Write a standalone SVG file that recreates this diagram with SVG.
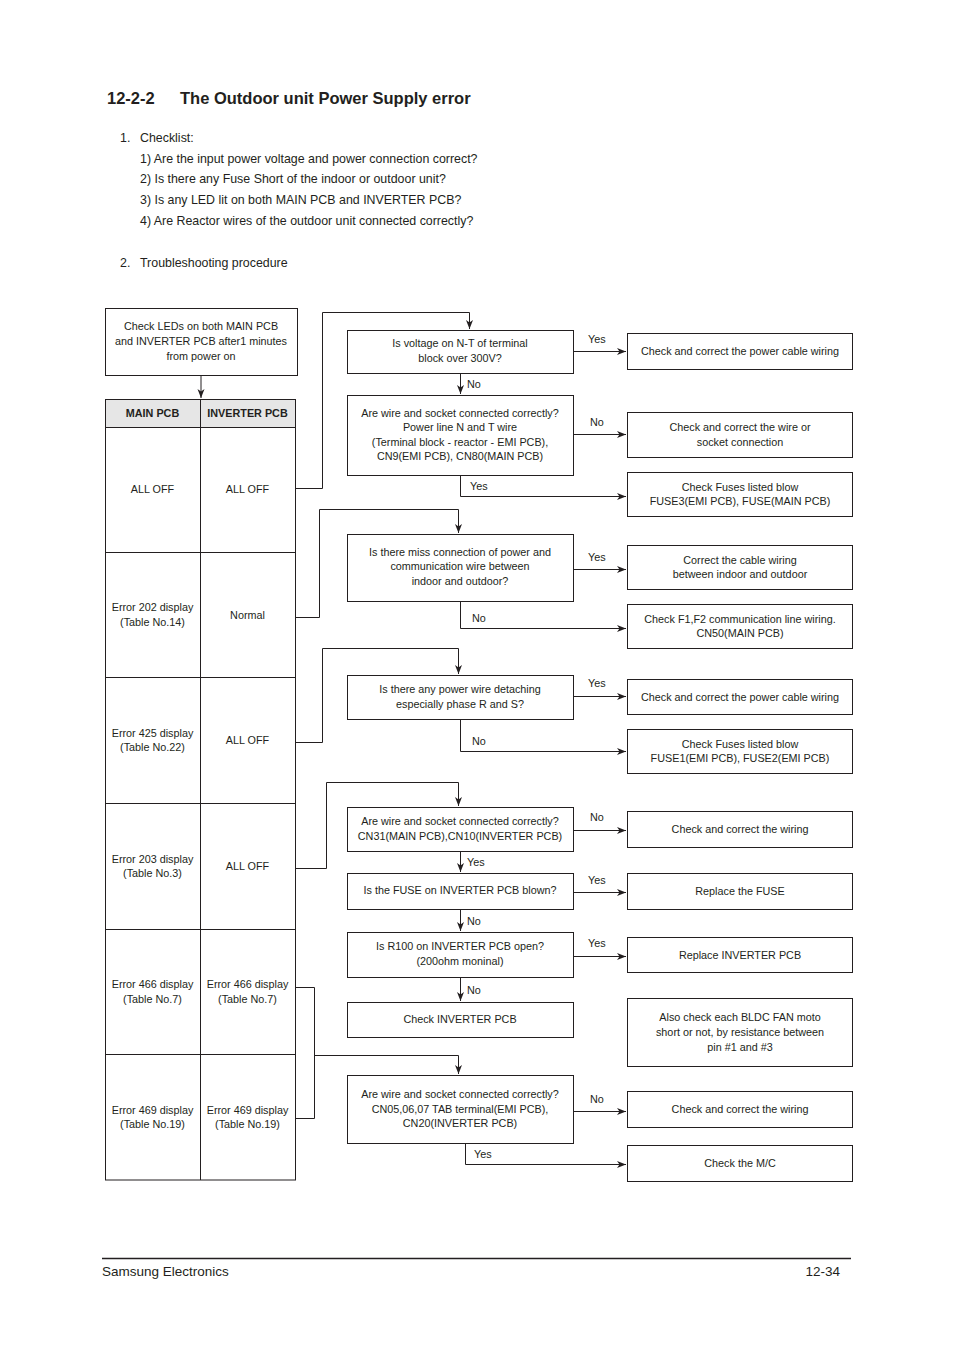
<svg xmlns="http://www.w3.org/2000/svg" width="954" height="1350" viewBox="0 0 954 1350">
<defs>
<marker id="ah" markerUnits="userSpaceOnUse" markerWidth="10" markerHeight="8" refX="9" refY="3.5" orient="auto">
<path d="M0,0 L9,3.5 L0,7 L2.5,3.5 Z" fill="#231f20"/>
</marker>
<style>
text{font-family:"Liberation Sans",Arial,sans-serif;fill:#231f20}
.t{font-size:10.8px;text-anchor:middle}
.l{font-size:10.8px}
.b{fill:#fff;stroke:#231f20;stroke-width:1}
.c{fill:none;stroke:#231f20;stroke-width:1}
.a{fill:none;stroke:#231f20;stroke-width:1;marker-end:url(#ah)}
.h{font-size:12.4px}
</style>
</defs>
<rect width="954" height="1350" fill="#fff"/>
<g id="header">
<text x="107" y="104" style="font-size:16.5px;font-weight:bold">12-2-2</text>
<text x="180" y="104" style="font-size:16.5px;font-weight:bold">The Outdoor unit Power Supply error</text>
<text class="h" x="120" y="142">1.</text>
<text class="h" x="140" y="142">Checklist:</text>
<text class="h" x="140" y="163">1) Are the input power voltage and power connection correct?</text>
<text class="h" x="140" y="183">2) Is there any Fuse Short of the indoor or outdoor unit?</text>
<text class="h" x="140" y="204">3) Is any LED lit on both MAIN PCB and INVERTER PCB?</text>
<text class="h" x="140" y="225">4) Are Reactor wires of the outdoor unit connected correctly?</text>
<text class="h" x="120" y="267">2.</text>
<text class="h" x="140" y="267">Troubleshooting procedure</text>
</g>
<g id="start">
<rect class="b" x="105.5" y="308.5" width="192" height="67"/>
<text class="t" x="201" y="330">Check LEDs on both MAIN PCB</text>
<text class="t" x="201" y="345">and INVERTER PCB after1 minutes</text>
<text class="t" x="201" y="360">from power on</text>
</g>
<g id="table">
<rect x="105.5" y="399.5" width="190" height="28" fill="#e6e6e6" stroke="#231f20"/>
<rect class="c" x="105.5" y="399.5" width="190" height="780.5"/>
<line class="c" x1="200.5" y1="399.5" x2="200.5" y2="1180"/>
<line class="c" x1="105.5" y1="552.5" x2="295.5" y2="552.5"/>
<line class="c" x1="105.5" y1="677.5" x2="295.5" y2="677.5"/>
<line class="c" x1="105.5" y1="803.5" x2="295.5" y2="803.5"/>
<line class="c" x1="105.5" y1="929.5" x2="295.5" y2="929.5"/>
<line class="c" x1="105.5" y1="1054.5" x2="295.5" y2="1054.5"/>
<text class="t" x="152.5" y="417" style="font-weight:bold">MAIN PCB</text>
<text class="t" x="247.5" y="417" style="font-weight:bold">INVERTER PCB</text>
<text class="t" x="152.5" y="493">ALL OFF</text>
<text class="t" x="247.5" y="493">ALL OFF</text>
<text class="t" x="152.5" y="611">Error 202 display</text>
<text class="t" x="152.5" y="626">(Table No.14)</text>
<text class="t" x="247.5" y="619">Normal</text>
<text class="t" x="152.5" y="737">Error 425 display</text>
<text class="t" x="152.5" y="751">(Table No.22)</text>
<text class="t" x="247.5" y="744">ALL OFF</text>
<text class="t" x="152.5" y="863">Error 203 display</text>
<text class="t" x="152.5" y="877">(Table No.3)</text>
<text class="t" x="247.5" y="870">ALL OFF</text>
<text class="t" x="152.5" y="988">Error 466 display</text>
<text class="t" x="152.5" y="1003">(Table No.7)</text>
<text class="t" x="247.5" y="988">Error 466 display</text>
<text class="t" x="247.5" y="1003">(Table No.7)</text>
<text class="t" x="152.5" y="1114">Error 469 display</text>
<text class="t" x="152.5" y="1128">(Table No.19)</text>
<text class="t" x="247.5" y="1114">Error 469 display</text>
<text class="t" x="247.5" y="1128">(Table No.19)</text>
</g>
<g id="q1">
<rect class="b" x="347.5" y="330.5" width="226" height="43"/>
<text class="t" x="460" y="347">Is voltage on N-T of terminal</text>
<text class="t" x="460" y="362">block over 300V?</text>
</g>
<g id="q2">
<rect class="b" x="347.5" y="395.5" width="226" height="80"/>
<text class="t" x="460" y="417">Are wire and socket connected correctly?</text>
<text class="t" x="460" y="431">Power line N and T wire</text>
<text class="t" x="460" y="446">(Terminal block - reactor - EMI PCB),</text>
<text class="t" x="460" y="460">CN9(EMI PCB), CN80(MAIN PCB)</text>
</g>
<g id="q3">
<rect class="b" x="347.5" y="534.5" width="226" height="67"/>
<text class="t" x="460" y="556">Is there miss connection of power and</text>
<text class="t" x="460" y="570">communication wire between</text>
<text class="t" x="460" y="585">indoor and outdoor?</text>
</g>
<g id="q4">
<rect class="b" x="347.5" y="675.5" width="226" height="44"/>
<text class="t" x="460" y="693">Is there any power wire detaching</text>
<text class="t" x="460" y="708">especially phase R and S?</text>
</g>
<g id="q5">
<rect class="b" x="347.5" y="807.5" width="226" height="44"/>
<text class="t" x="460" y="825">Are wire and socket connected correctly?</text>
<text class="t" x="460" y="840">CN31(MAIN PCB),CN10(INVERTER PCB)</text>
</g>
<g id="q6">
<rect class="b" x="347.5" y="873.5" width="226" height="36"/>
<text class="t" x="460" y="894">Is the FUSE on INVERTER PCB blown?</text>
</g>
<g id="q7">
<rect class="b" x="347.5" y="932.5" width="226" height="45"/>
<text class="t" x="460" y="950">Is R100 on INVERTER PCB open?</text>
<text class="t" x="460" y="965">(200ohm moninal)</text>
</g>
<g id="q8">
<rect class="b" x="347.5" y="1002.5" width="226" height="35"/>
<text class="t" x="460" y="1023">Check INVERTER PCB</text>
</g>
<g id="q9">
<rect class="b" x="347.5" y="1075.5" width="226" height="68"/>
<text class="t" x="460" y="1098">Are wire and socket connected correctly?</text>
<text class="t" x="460" y="1113">CN05,06,07 TAB terminal(EMI PCB),</text>
<text class="t" x="460" y="1127">CN20(INVERTER PCB)</text>
</g>
<g id="r1">
<rect class="b" x="627.5" y="333.5" width="225" height="36"/>
<text class="t" x="740" y="355">Check and correct the power cable wiring</text>
</g>
<g id="r2">
<rect class="b" x="627.5" y="412.5" width="225" height="45"/>
<text class="t" x="740" y="431">Check and correct the wire or</text>
<text class="t" x="740" y="446">socket connection</text>
</g>
<g id="r3">
<rect class="b" x="627.5" y="472.5" width="225" height="44"/>
<text class="t" x="740" y="491">Check Fuses listed blow</text>
<text class="t" x="740" y="505">FUSE3(EMI PCB), FUSE(MAIN PCB)</text>
</g>
<g id="r4">
<rect class="b" x="627.5" y="545.5" width="225" height="44"/>
<text class="t" x="740" y="564">Correct the cable wiring</text>
<text class="t" x="740" y="578">between indoor and outdoor</text>
</g>
<g id="r5">
<rect class="b" x="627.5" y="604.5" width="225" height="44"/>
<text class="t" x="740" y="623">Check F1,F2 communication line wiring.</text>
<text class="t" x="740" y="637">CN50(MAIN PCB)</text>
</g>
<g id="r6">
<rect class="b" x="627.5" y="679.5" width="225" height="35"/>
<text class="t" x="740" y="701">Check and correct the power cable wiring</text>
</g>
<g id="r7">
<rect class="b" x="627.5" y="729.5" width="225" height="44"/>
<text class="t" x="740" y="748">Check Fuses listed blow</text>
<text class="t" x="740" y="762">FUSE1(EMI PCB), FUSE2(EMI PCB)</text>
</g>
<g id="r8">
<rect class="b" x="627.5" y="811.5" width="225" height="36"/>
<text class="t" x="740" y="833">Check and correct the wiring</text>
</g>
<g id="r9">
<rect class="b" x="627.5" y="873.5" width="225" height="36"/>
<text class="t" x="740" y="895">Replace the FUSE</text>
</g>
<g id="r10">
<rect class="b" x="627.5" y="937.5" width="225" height="35"/>
<text class="t" x="740" y="959">Replace INVERTER PCB</text>
</g>
<g id="r11">
<rect class="b" x="627.5" y="998.5" width="225" height="68"/>
<text class="t" x="740" y="1021">Also check each BLDC FAN moto</text>
<text class="t" x="740" y="1036">short or not, by resistance between</text>
<text class="t" x="740" y="1051">pin #1 and #3</text>
</g>
<g id="r12">
<rect class="b" x="627.5" y="1091.5" width="225" height="36"/>
<text class="t" x="740" y="1113">Check and correct the wiring</text>
</g>
<g id="r13">
<rect class="b" x="627.5" y="1145.5" width="225" height="36"/>
<text class="t" x="740" y="1167">Check the M/C</text>
</g>
<g id="connectors">
<path class="a" d="M201,376 V398"/>
<path class="a" d="M296,488.5 H322.5 V312.5 H469.5 V329"/>
<path class="a" d="M296,617.5 H319.5 V509.5 H458.5 V533"/>
<path class="a" d="M296,742.5 H322.5 V648.5 H458.5 V674"/>
<path class="a" d="M296,868.5 H326.5 V782.5 H458.5 V806"/>
<path class="c" d="M296,987.5 H314.5 V1118.5 H296"/>
<path class="a" d="M314.5,1055.5 H458.5 V1074"/>
<path class="a" d="M460.5,374 V394"/>
<path class="a" d="M574,351.5 H626"/>
<path class="a" d="M574,434.5 H626"/>
<path class="a" d="M460.5,476 V496.5 H626"/>
<path class="a" d="M574,569.5 H626"/>
<path class="a" d="M460.5,602 V628.5 H626"/>
<path class="a" d="M574,696.5 H626"/>
<path class="a" d="M460.5,720 V751.5 H626"/>
<path class="a" d="M574,830.5 H626"/>
<path class="a" d="M460.5,852 V872"/>
<path class="a" d="M574,892.5 H626"/>
<path class="a" d="M460.5,910 V931"/>
<path class="a" d="M574,956.5 H626"/>
<path class="a" d="M460.5,978 V1001"/>
<path class="a" d="M574,1111.5 H626"/>
<path class="a" d="M465.5,1144 V1164.5 H626"/>
<text class="l" x="467" y="388">No</text>
<text class="l" x="470" y="490">Yes</text>
<text class="l" x="472" y="622">No</text>
<text class="l" x="472" y="745">No</text>
<text class="l" x="467" y="866">Yes</text>
<text class="l" x="467" y="925">No</text>
<text class="l" x="467" y="994">No</text>
<text class="l" x="474" y="1158">Yes</text>
<text class="l" x="588" y="343">Yes</text>
<text class="l" x="590" y="426">No</text>
<text class="l" x="588" y="561">Yes</text>
<text class="l" x="588" y="687">Yes</text>
<text class="l" x="590" y="821">No</text>
<text class="l" x="588" y="884">Yes</text>
<text class="l" x="588" y="947">Yes</text>
<text class="l" x="590" y="1103">No</text>
</g>
<g id="footer">
<line x1="102" y1="1258.5" x2="851" y2="1258.5" stroke="#231f20" stroke-width="1.5"/>
<text x="102" y="1276" style="font-size:13.5px">Samsung Electronics</text>
<text x="840" y="1276" style="font-size:13.5px;text-anchor:end">12-34</text>
</g>
</svg>
